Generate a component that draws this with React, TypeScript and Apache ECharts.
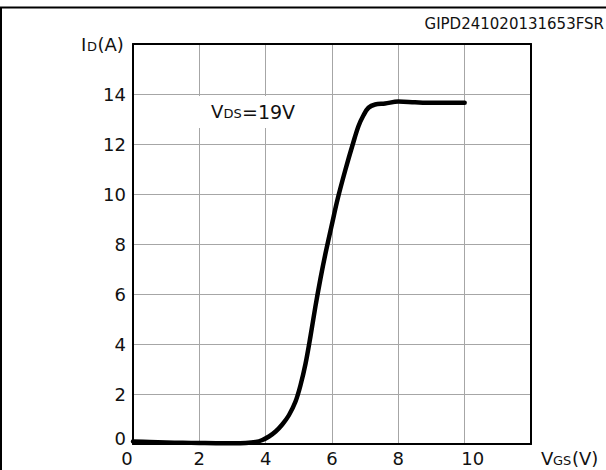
import React, { useEffect, useRef } from "react";
import * as echarts from "echarts";

// Transfer characteristic: drain current vs gate-source voltage at VDS = 19 V
const vgsVolts = [
  0, 0.5, 1, 1.5, 2, 2.5, 3, 3.4, 3.7, 3.9, 4.1, 4.3, 4.5, 4.7, 4.9, 5.05, 5.2, 5.35, 5.5,
  5.65, 5.8, 6.0, 6.17, 6.4, 6.64, 6.8, 6.95, 7.1, 7.3, 7.6, 8.0, 8.5, 9.0, 9.5, 10,
];
const idAmps = [
  0.1, 0.08, 0.06, 0.05, 0.04, 0.03, 0.03, 0.04, 0.08, 0.16, 0.3, 0.5, 0.78, 1.15, 1.7,
  2.35, 3.2, 4.3, 5.5, 6.6, 7.6, 8.8, 9.8, 10.95, 12.05, 12.72, 13.15, 13.45, 13.58, 13.62,
  13.7, 13.67, 13.65, 13.65, 13.65,
];

const xTicks = ["0", "2", "4", "6", "8", "10"];
const yTicks = ["0", "2", "4", "6", "8", "10", "12", "14"];

const FONT = "'DejaVu Sans', 'Liberation Sans', Arial, sans-serif";
const INK = "#111";

export default function App() {
  const ref = useRef<HTMLDivElement>(null);

  useEffect(() => {
    if (!ref.current) return;
    const chart = echarts.init(ref.current, undefined, { renderer: "svg" });

    const option: echarts.EChartsOption = {
      animation: false,
      backgroundColor: "#ffffff",
      textStyle: { fontFamily: FONT },
      grid: { left: 133, top: 44, width: 398, height: 400 },
      xAxis: [
        {
          type: "value",
          min: 0,
          max: 12,
          interval: 2,
          axisLine: { show: true, onZero: false, lineStyle: { color: "#000", width: 2 } },
          axisTick: { show: false },
          splitLine: { show: true, lineStyle: { color: "#a6a6a6", width: 1 } },
          axisLabel: {
            margin: 5,
            fontSize: 18,
            color: INK,
            fontFamily: FONT,
            formatter: (v: number) => {
              const s = String(v);
              if (!xTicks.includes(s)) return "";
              if (s === "0") return "{l|0}";
              if (s === "10") return "{r|10}";
              return s;
            },
            rich: {
              l: { fontSize: 18, fontFamily: FONT, color: INK, padding: [0, 12, 0, 0] },
              r: { fontSize: 18, fontFamily: FONT, color: INK, padding: [0, 0, 0, 16] },
            },
          },
        },
        {
          type: "value",
          position: "top",
          min: 0,
          max: 12,
          interval: 2,
          axisLine: { show: true, onZero: false, lineStyle: { color: "#000", width: 2 } },
          axisTick: { show: false },
          axisLabel: { show: false },
          splitLine: { show: false },
        },
      ],
      yAxis: [
        {
          type: "value",
          min: 0,
          max: 16,
          interval: 2,
          axisLine: { show: true, onZero: false, lineStyle: { color: "#000", width: 2 } },
          axisTick: { show: false },
          splitLine: { show: true, lineStyle: { color: "#a6a6a6", width: 1 } },
          axisLabel: {
            margin: 7,
            fontSize: 18,
            color: INK,
            fontFamily: FONT,
            formatter: (v: number) => {
              const s = String(v);
              if (!yTicks.includes(s)) return "";
              if (s === "0") return "{b|0}";
              return s;
            },
            rich: {
              b: { fontSize: 18, fontFamily: FONT, color: INK, padding: [0, 0, 12, 0] },
            },
          },
        },
        {
          type: "value",
          position: "right",
          min: 0,
          max: 16,
          interval: 2,
          axisLine: { show: true, onZero: false, lineStyle: { color: "#000", width: 2 } },
          axisTick: { show: false },
          axisLabel: { show: false },
          splitLine: { show: false },
        },
      ],
      graphic: [
        // outer figure frame (top and left edges)
        {
          type: "line",
          shape: { x1: 0, y1: 7.5, x2: 606, y2: 7.5 },
          style: { stroke: "#000", lineWidth: 2 },
          z: 10,
        },
        {
          type: "line",
          shape: { x1: 1, y1: 7, x2: 1, y2: 470 },
          style: { stroke: "#000", lineWidth: 2 },
          z: 10,
        },
        {
          type: "text",
          right: 2,
          top: 16,
          style: { text: "GIPD241020131653FSR", font: `15px ${FONT}`, fill: INK },
          z: 10,
        },
        // y-axis title I_D(A)
        { type: "text", x: 81, y: 35, style: { text: "I", font: `18px ${FONT}`, fill: INK }, z: 10 },
        { type: "text", x: 87, y: 39.5, style: { text: "D", font: `13px ${FONT}`, fill: INK }, z: 10 },
        { type: "text", x: 97.5, y: 35, style: { text: "(A)", font: `18px ${FONT}`, fill: INK }, z: 10 },
        // x-axis title V_GS(V)
        { type: "text", x: 541, y: 449, style: { text: "V", font: `18px ${FONT}`, fill: INK }, z: 10 },
        { type: "text", x: 553, y: 453.5, style: { text: "GS", font: `13px ${FONT}`, fill: INK }, z: 10 },
        { type: "text", x: 572, y: 449, style: { text: "(V)", font: `18px ${FONT}`, fill: INK }, z: 10 },
        // condition label on a white backing
        {
          type: "rect",
          shape: { x: 192, y: 96, width: 118, height: 32 },
          style: { fill: "#ffffff" },
          z: 1,
        },
        { type: "text", x: 211, y: 102, style: { text: "V", font: `18px ${FONT}`, fill: INK }, z: 10 },
        { type: "text", x: 223.5, y: 106.5, style: { text: "DS", font: `13px ${FONT}`, fill: INK }, z: 10 },
        { type: "text", x: 242, y: 102, style: { text: "=19V", font: `19px ${FONT}`, fill: INK }, z: 10 },
      ],
      series: [
        {
          type: "line",
          data: vgsVolts.map((v, i) => [v, idAmps[i]]),
          showSymbol: false,
          smooth: 0.35,
          lineStyle: { color: "#000", width: 4.5, cap: "round", join: "round" },
          z: 5,
        },
      ],
    };

    chart.setOption(option);
    return () => chart.dispose();
  }, []);

  return (
    <div
      ref={ref}
      style={{ position: "fixed", left: 0, top: 0, width: 606, height: 470, background: "#fff" }}
    />
  );
}
